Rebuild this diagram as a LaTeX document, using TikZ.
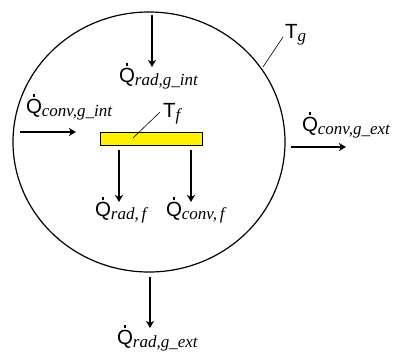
\documentclass[tikz,border=0pt]{standalone}
\usepackage{fontspec}
\setmainfont{Liberation Sans}
\newfontfamily\subserif{Liberation Serif}
\usetikzlibrary{arrows.meta,shapes.geometric}
\newcommand\qfont{\fontsize{20.5}{20.5}\selectfont}
\newcommand\sfnt{\fontsize{17}{17}\selectfont\subserif\itshape}
\newcommand\Qdot{\ooalign{Q\cr\hidewidth\raisebox{0.8em}{\rule{2.2pt}{2.2pt}}\hidewidth\cr}}
\newcommand\QQ[1]{{\qfont\Qdot}\raisebox{-3pt}{\sfnt #1}}
\newcommand\TT[1]{{\qfont T}\raisebox{-3pt}{\sfnt #1}}
\begin{document}
\begin{tikzpicture}[x=1pt,y=-1pt,
  flow/.style={line width=1.4pt,-{Stealth[length=7pt,width=8pt,inset=2pt]}},
  lbl/.style={anchor=base west,inner sep=0pt,outer sep=0pt},
  leader/.style={line width=0.6pt}]
\useasboundingbox (0,0) rectangle (393,351);
\node[draw,line width=1.2pt,ellipse,minimum width=272pt,minimum height=260pt,inner sep=0pt] (gas) at (149,142) {};
% plate
\node[draw,line width=1.2pt,fill=yellow,minimum width=102pt,minimum height=13pt,inner sep=0pt,anchor=north west] (plate) at (100,132) {};
% arrows
\coordinate (a1s) at (152,15); \coordinate (a1e) at (152,67);
\draw[flow] (a1s) -- (a1e);
\coordinate (a2s) at (20,132); \coordinate (a2e) at (76,132);
\draw[flow] (a2s) -- (a2e);
\coordinate (a3s) at (291,147); \coordinate (a3e) at (346,147);
\draw[flow] (a3s) -- (a3e);
\coordinate (a4s) at (119,150); \coordinate (a4e) at (119,202);
\draw[flow] (a4s) -- (a4e);
\coordinate (a5s) at (191,150); \coordinate (a5e) at (191,202);
\draw[flow] (a5s) -- (a5e);
\coordinate (a6s) at (150,277); \coordinate (a6e) at (150,328);
\draw[flow] (a6s) -- (a6e);
% labels
\node[lbl] (qradgint) at (119,82) {\QQ{rad,g\_int}};
\node[lbl] (qconvgint) at (26,113) {\QQ{conv,g\_int}};
\node[lbl] (qconvgext) at (302,131) {\QQ{conv,g\_ext}};
\node[lbl] (qradf) at (95,216) {\QQ{rad,\,f}};
\node[lbl] (qconvf) at (166,216) {\QQ{conv,\,f}};
\node[lbl] (qradgext) at (117,344) {\QQ{rad,g\_ext}};
\node[lbl] (tf) at (163,117) {\TT{f}};
\node[lbl] (tg) at (285,38) {\TT{g}};
% leaders
\coordinate (lf1) at (133,138); \coordinate (lf2) at (160,112);
\draw[leader] (lf1) -- (lf2);
\coordinate (lg1) at (263,67); \coordinate (lg2) at (283,37);
\draw[leader] (lg1) -- (lg2);
\end{tikzpicture}
\end{document}
